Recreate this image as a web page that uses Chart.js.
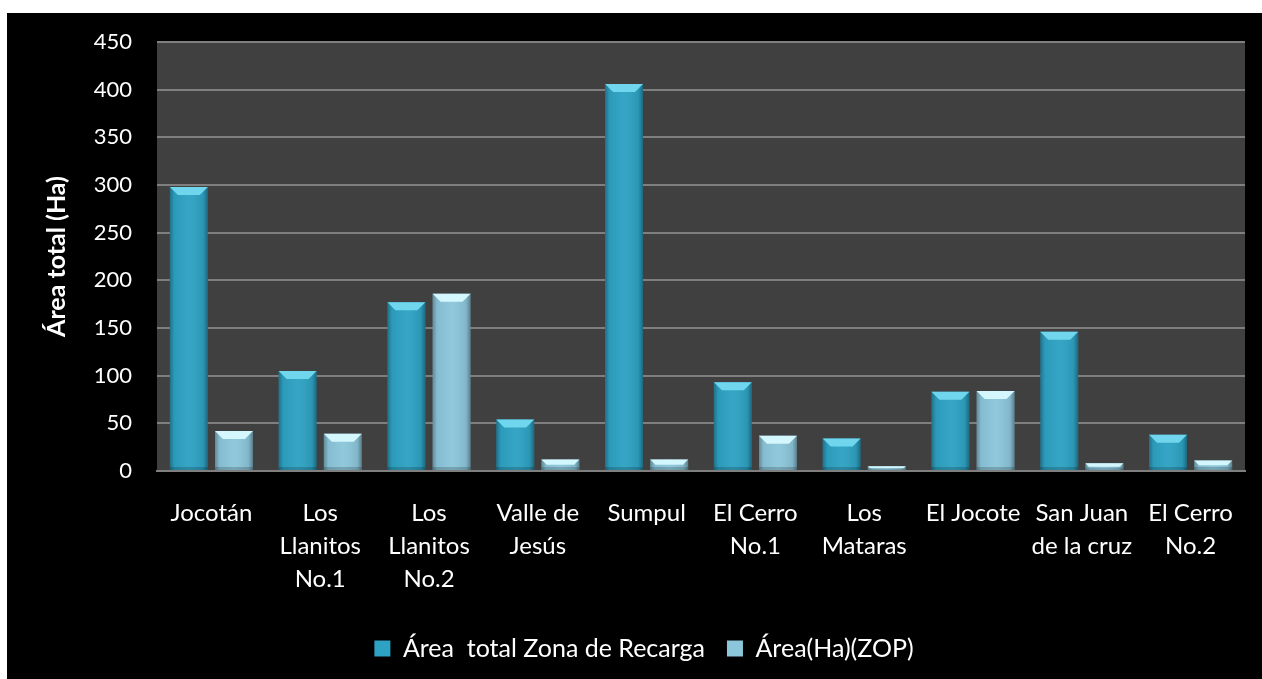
<!DOCTYPE html>
<html>
<head>
<meta charset="utf-8">
<script src="https://cdn.jsdelivr.net/npm/chart.js@4.4.1/dist/chart.umd.min.js"></script>
<style>
    body { margin: 0; background: #fff; }
    #wrap { position: absolute; left: 7px; top: 13px; width: 1255px; height: 666px; background: #000; }
</style>
</head>
<body>
<div id="wrap"><canvas id="myChart" width="1255" height="666"></canvas></div>
<script>
const labels = [
    'Jocotán',
    ['Los', 'Llanitos', 'No.1'],
    ['Los', 'Llanitos', 'No.2'],
    ['Valle de', 'Jesús'],
    'Sumpul',
    ['El Cerro', 'No.1'],
    ['Los', 'Mataras'],
    'El Jocote',
    ['San Juan', 'de la cruz'],
    ['El Cerro', 'No.2']
];
const areaTotal = [298, 105, 177, 54, 406, 93, 34, 83, 146, 38];
const areaZop = [42, 39, 186, 12, 12, 37, 5, 84, 8, 11];
const yTicks = [0, 50, 100, 150, 200, 250, 300, 350, 400, 450];

const fontFam = 'Lato, "Open Sans", sans-serif';

// fondo gris del área de trazado
const plotBg = {
    id: 'plotBg',
    beforeDraw(chart) {
        const { ctx, chartArea: a } = chart;
        ctx.save();
        ctx.fillStyle = '#404040';
        ctx.fillRect(a.left, a.top, a.right - a.left, a.bottom - a.top);
        ctx.restore();
    }
};

// sombreado y bisel de las barras
const bevel = {
    id: 'bevel',
    afterDatasetsDraw(chart) {
        const ctx = chart.ctx;
        const tops = ['#6fd6ee', '#d4f6fd'];
        chart.data.datasets.forEach((ds, di) => {
            chart.getDatasetMeta(di).data.forEach(bar => {
                const l = bar.x - bar.width / 2, r = bar.x + bar.width / 2;
                const t = bar.y, b = bar.base;
                const h = b - t;
                const g = ctx.createLinearGradient(l, 0, r, 0);
                g.addColorStop(0, 'rgba(0,0,0,0.30)');
                g.addColorStop(0.12, 'rgba(0,0,0,0.05)');
                g.addColorStop(0.5, 'rgba(255,255,255,0.04)');
                g.addColorStop(0.88, 'rgba(0,0,0,0.08)');
                g.addColorStop(1, 'rgba(0,0,0,0.35)');
                ctx.save();
                ctx.fillStyle = g;
                ctx.fillRect(l, t, r - l, h);
                const bv = Math.min(8, h / 2);
                ctx.fillStyle = tops[di];
                ctx.beginPath();
                ctx.moveTo(l, t);
                ctx.lineTo(r, t);
                ctx.lineTo(r - bv, t + bv);
                ctx.lineTo(l + bv, t + bv);
                ctx.closePath();
                ctx.fill();
                ctx.fillStyle = 'rgba(0,0,0,0.18)';
                ctx.fillRect(l, b - Math.min(3, h / 3), r - l, Math.min(3, h / 3));
                ctx.restore();
            });
        });
    }
};

const ctx = document.getElementById('myChart').getContext('2d');
const myChart = new Chart(ctx, {
    type: 'bar',
    data: {
        labels: labels,
        datasets: [{
            label: 'Área  total Zona de Recarga',
            data: areaTotal,
            backgroundColor: '#2ea2c3',
            borderWidth: 0,
            categoryPercentage: 0.83,
            barPercentage: 0.84
        }, {
            label: 'Área(Ha)(ZOP)',
            data: areaZop,
            backgroundColor: '#8cc6da',
            borderWidth: 0,
            categoryPercentage: 0.83,
            barPercentage: 0.84
        }]
    },
    options: {
        responsive: false,
        animation: false,
        layout: { padding: { left: 36, right: 17, top: 29, bottom: 8 } },
        plugins: {
            tooltip: { enabled: false },
            legend: {
                position: 'bottom',
                labels: {
                    color: '#fff',
                    font: { family: fontFam, size: 25 },
                    boxWidth: 16,
                    boxHeight: 16,
                    padding: 22
                }
            }
        },
        scales: {
            x: {
                grid: { display: false },
                border: { color: '#7f7f7f', width: 2 },
                ticks: {
                    color: '#fff',
                    font: { family: fontFam, size: 24, lineHeight: 1.375 },
                    maxRotation: 0,
                    autoSkip: false,
                    padding: 18
                },
                afterFit(scale) { scale.height = 143; }
            },
            y: {
                min: 0,
                max: 450,
                afterBuildTicks(scale) { scale.ticks = yTicks.map(v => ({ value: v })); },
                grid: { color: '#7f7f7f', lineWidth: 2, drawTicks: false },
                border: { display: false },
                ticks: {
                    color: '#fff',
                    font: { family: fontFam, size: 22 },
                    padding: 25
                },
                title: {
                    display: true,
                    text: 'Área total (Ha)',
                    color: '#fff',
                    font: { family: fontFam, size: 25, weight: 'bold' },
                    padding: { top: -1, bottom: 0 }
                },
                afterFit(scale) {
                    scale.width = 114;
                    scale.paddingTop = 0;
                    scale.paddingBottom = 0;
                }
            }
        }
    },
    plugins: [plotBg, bevel]
});
</script>
</body>
</html>
